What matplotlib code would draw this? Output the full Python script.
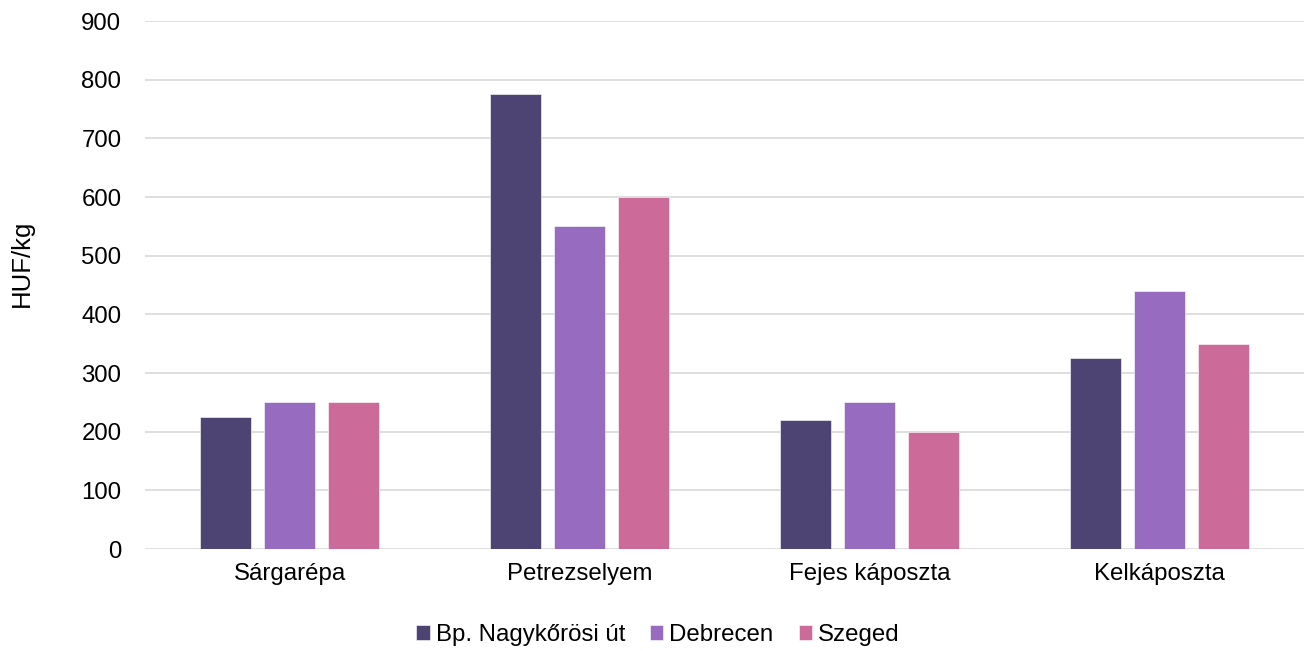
import matplotlib
matplotlib.use("Agg")
import matplotlib.pyplot as plt
import numpy as np

categories = ["Sárgarépa", "Petrezselyem", "Fejes káposzta", "Kelkáposzta"]
series_names = ["Bp. Nagykőrösi út", "Debrecen", "Szeged"]
bp_values = [225, 775, 220, 325]
debrecen_values = [250, 550, 250, 440]
szeged_values = [250, 600, 200, 350]
y_ticks = [0, 100, 200, 300, 400, 500, 600, 700, 800, 900]
colors = ["#4e4474", "#976cc0", "#cc6a99"]

plt.rcParams['font.family'] = ['Liberation Sans', 'DejaVu Sans']

fig = plt.figure(figsize=(13.07, 6.51), dpi=100)
ax = fig.add_axes([145/1307, 1-549/651, (1304-145)/1307, (549-21)/651])

x = np.arange(len(categories))
width = 0.176
offset = 0.221
for i, (vals, name, c) in enumerate(zip([bp_values, debrecen_values, szeged_values], series_names, colors)):
    ax.bar(x + (i-1)*offset, vals, width, color=c, label=name, zorder=3,
           edgecolor="white", linewidth=0.4)

ax.set_xlim(-0.5, 3.5)
ax.set_ylim(0, 900)
ax.set_yticks(y_ticks)
ax.set_xticks(x)
ax.set_xticklabels(categories)
ax.grid(axis="y", color="#d9d9d9", linewidth=1.2, zorder=0)
for s in ax.spines.values():
    s.set_visible(False)
ax.tick_params(axis="both", length=0, labelsize=17.3, colors="#000000")
ax.tick_params(axis="y", pad=17)
ax.tick_params(axis="x", pad=10)
ax.set_ylabel("HUF/kg", fontsize=18.5)
ax.yaxis.set_label_coords(22/1307, 1-263/651, transform=fig.transFigure)
ax.yaxis.label.set_va("center")

leg = fig.legend(loc="center", bbox_to_anchor=(658/1307, 1-635/651), ncol=3, frameon=False,
                 fontsize=17.3, handlelength=0.55, handleheight=0.55, handletextpad=0.25,
                 columnspacing=1.05)

fig.savefig("out.png", dpi=100)
